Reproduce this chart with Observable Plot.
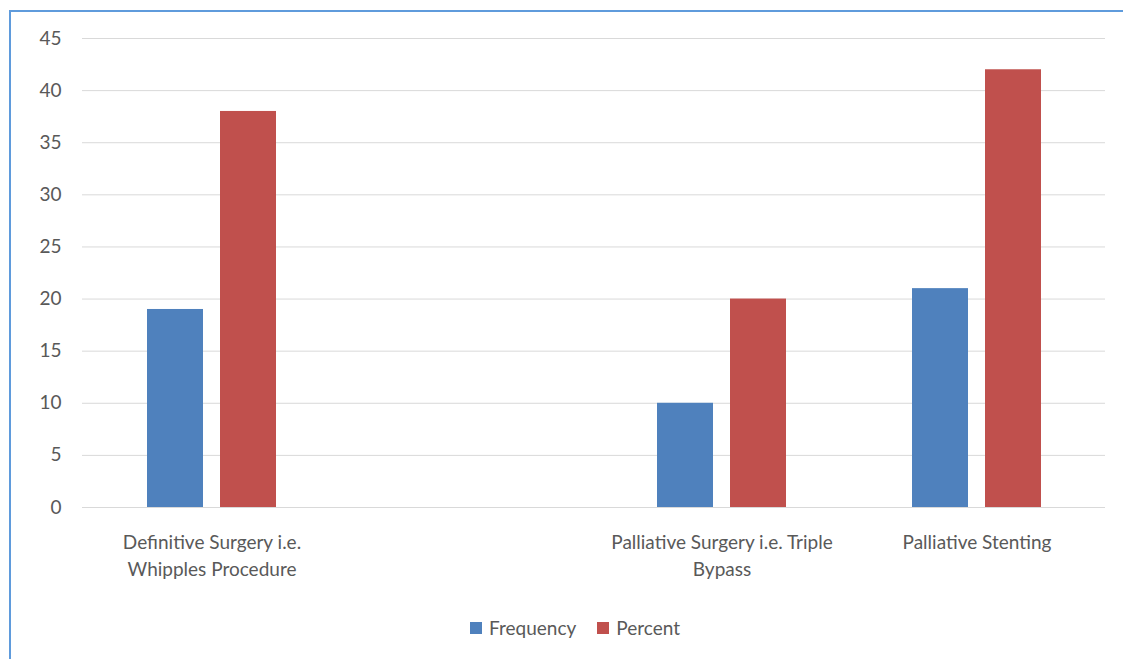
<!DOCTYPE html>
<html>
<head>
<meta charset="utf-8">
<script src="https://cdn.jsdelivr.net/npm/d3@7"></script>
<script src="https://cdn.jsdelivr.net/npm/@observablehq/plot@0.6"></script>
<style>
  html, body { margin: 0; padding: 0; background: #fff; }
  body { width: 1123px; height: 659px; position: relative; overflow: hidden; font-family: Lato, "Open Sans", sans-serif; }
  #frame { position: absolute; left: 9px; top: 10px; width: 1130px; height: 670px;
           border-top: 2px solid #5f9bdc; border-left: 2px solid #5f9bdc; box-sizing: border-box; }
  #chart { position: absolute; left: 0; top: 0; }
  #legend { position: absolute; top: 616px; left: 0; width: 1150px; display: flex; justify-content: center;
            gap: 21px; font-size: 19px; color: #595959; }
  #legend .item { display: flex; align-items: center; gap: 7px; }
  #legend .sw { width: 12px; height: 12px; display: inline-block; }
</style>
</head>
<body>
<div id="frame"></div>
<div id="chart"></div>
<div id="legend"></div>
<script>
// Procedure categories (the second slot is a blank row in the source table)
const categories = [
  "Definitive Surgery i.e. Whipples Procedure",
  "",
  "Palliative Surgery i.e. Triple Bypass",
  "Palliative Stenting"
];
// Wrapped tick labels shown under each category
const tickLabels = [
  "Definitive Surgery i.e.\nWhipples Procedure",
  "",
  "Palliative Surgery i.e. Triple\nBypass",
  "Palliative Stenting"
];
const series = ["Frequency", "Percent"];
const frequency = [19, null, 10, 21];
const percent = [38, null, 20, 42];
const yTicks = [0, 5, 10, 15, 20, 25, 30, 35, 40, 45];
const colors = ["#4f81bd", "#c0504d"];

const freqRows = categories.map((c, i) => ({category: c, value: frequency[i]})).filter(d => d.value != null);
const pctRows = categories.map((c, i) => ({category: c, value: percent[i]})).filter(d => d.value != null);
const labelOf = new Map(categories.map((c, i) => [c, tickLabels[i]]));

// Each category band is ~256px; the two bars sit side by side, 57px wide with a 16px gap
const outer = 63, inner = 136;

const chart = Plot.plot({
  width: 1123,
  height: 600,
  marginLeft: 82,
  marginRight: 18,
  marginTop: 38,
  marginBottom: 93,
  style: {fontFamily: "Lato, 'Open Sans', sans-serif", fontSize: "19px", color: "#595959", background: "transparent"},
  x: {domain: categories, padding: 0, label: null},
  y: {domain: [0, 45], label: null},
  marks: [
    Plot.gridY(yTicks, {stroke: "#d9d9d9", strokeOpacity: 1, strokeWidth: 1}),
    Plot.barY(freqRows, {x: "category", y: "value", fill: colors[0], insetLeft: outer, insetRight: inner}),
    Plot.barY(pctRows, {x: "category", y: "value", fill: colors[1], insetLeft: inner, insetRight: outer}),
    Plot.axisY({ticks: yTicks, tickSize: 0, tickPadding: 21, label: null, fill: "#595959", fontSize: 19}),
    Plot.axisX({tickSize: 0, tickPadding: 22, label: null, lineHeight: 1.42,
                tickFormat: d => labelOf.get(d), fill: "#595959", fontSize: 19})
  ]
});
document.getElementById("chart").appendChild(chart);

// Legend below the plot
const legend = document.getElementById("legend");
series.forEach((s, i) => {
  const item = document.createElement("div");
  item.className = "item";
  item.innerHTML = `<span class="sw" style="background:${colors[i]}"></span><span>${s}</span>`;
  legend.appendChild(item);
});
</script>
</body>
</html>
